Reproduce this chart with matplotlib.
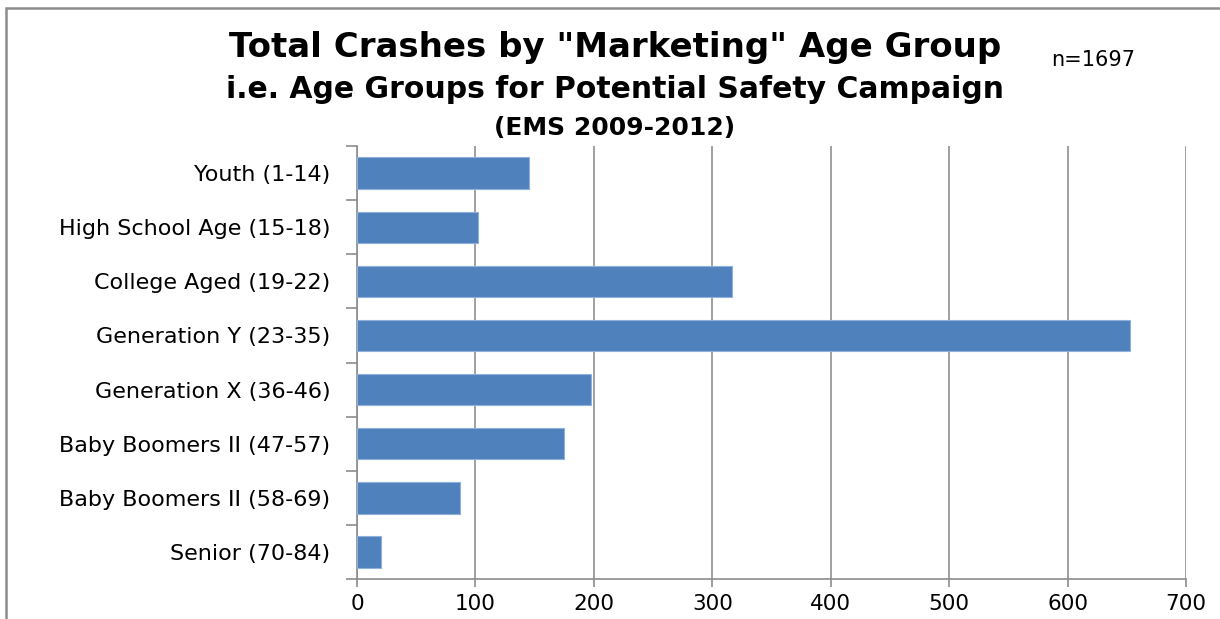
import matplotlib.pyplot as plt
from matplotlib.patches import Rectangle
import numpy as np

# Age groups (top to bottom) and crash counts
groups = ['Youth (1-14)', 'High School Age (15-18)', 'College Aged (19-22)',
          'Generation Y (23-35)', 'Generation X (36-46)', 'Baby Boomers II (47-57)',
          'Baby Boomers II (58-69)', 'Senior (70-84)']
crashes = [145, 102, 317, 653, 198, 175, 87, 20]
x_ticks = [0, 100, 200, 300, 400, 500, 600, 700]

plt.rcParams['font.family'] = ['DejaVu Sans']

fig = plt.figure(figsize=(12.2, 6.19), dpi=100)
ax = fig.add_axes([0.2926, 0.0646, 0.9721 - 0.2926, 0.7641 - 0.0646])

y = np.arange(len(groups))
ax.barh(y, crashes, height=0.58, color='#4F81BD', edgecolor='#8EB0DA', linewidth=0.8, zorder=3)
ax.set_ylim(len(groups) - 0.5, -0.5)
ax.set_xlim(0, 700)

ax.set_xticks(x_ticks)
ax.set_xticklabels([str(v) for v in x_ticks], fontsize=15.5)
ax.set_yticks(y)
ax.set_yticklabels(groups, fontsize=16)
ax.set_yticks(np.arange(-0.5, len(groups), 1), minor=True)

ax.tick_params(axis='y', which='major', length=0, pad=19)
ax.tick_params(axis='y', which='minor', length=8, width=1.2, color='#8C8C8C', direction='out')
ax.tick_params(axis='x', length=6, width=1.2, color='#8C8C8C', direction='out', pad=5)

ax.grid(axis='x', color='#A0A0A0', linewidth=1.4, zorder=0)
for side in ['top', 'right']:
    ax.spines[side].set_visible(False)
for side in ['left', 'bottom']:
    ax.spines[side].set_color('#8C8C8C')
    ax.spines[side].set_linewidth(1.2)

fig.text(0.504, 0.924, 'Total Crashes by "Marketing" Age Group', ha='center', va='center',
         fontsize=24.5, fontweight='bold')
fig.text(0.504, 0.855, 'i.e. Age Groups for Potential Safety Campaign', ha='center', va='center',
         fontsize=21.5, fontweight='bold')
fig.text(0.504, 0.793, '(EMS 2009-2012)', ha='center', va='center',
         fontsize=18, fontweight='bold')
fig.text(0.896, 0.903, 'n=1697', ha='center', va='center', fontsize=15)

# chart border (cropped on right and bottom)
fig.patches.append(Rectangle((6 / 1220, -0.1), 1.2, 1.1 - 8 / 619, transform=fig.transFigure,
                             fill=False, edgecolor='#8C8C8C', linewidth=1.8))

fig.savefig('out.png', dpi=100)
